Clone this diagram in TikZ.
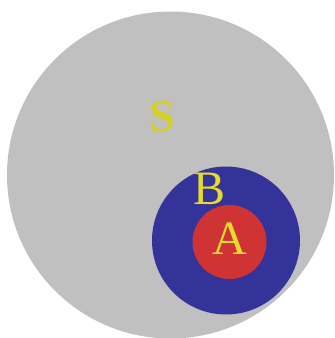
\documentclass[tikz,border=0pt]{standalone}
\usepackage{fontspec}
\setmainfont{Liberation Serif}
\definecolor{abuabu}{RGB}{192,192,192}
\definecolor{birutua}{RGB}{51,51,153}
\definecolor{merahset}{RGB}{208,51,51}
\definecolor{kuninglbl}{RGB}{228,218,48}
\definecolor{kuningS}{RGB}{212,208,40}
\begin{document}
\begin{tikzpicture}[x=1pt, y=-1pt,
        himpunan/.style={circle, inner sep=0pt, draw=none},
        lbl/.style={font=\fontsize{48}{48}\selectfont, text=kuninglbl, inner sep=0pt}]
        \useasboundingbox (0,0) rectangle (335,338);
        \fill[white] (0,0) rectangle (335,338);
        % semesta, B dan A
        \node[himpunan, fill=abuabu, minimum size=327pt] (semesta) at (170.5,175) {};
        \node[himpunan, fill=birutua, minimum size=148pt] (setB) at (226,240.5) {};
        \node[himpunan, fill=merahset, minimum size=74pt] (setA) at (229.5,242) {};
        % label
        \node[lbl, text=kuningS, font=\fontsize{46}{46}\selectfont\bfseries] (lblS) at (162,116) {S};
        \node[lbl] (lblB) at (210,189) {B};
        \node[lbl] (lblA) at (230,239) {A};
    \end{tikzpicture}
\end{document}
